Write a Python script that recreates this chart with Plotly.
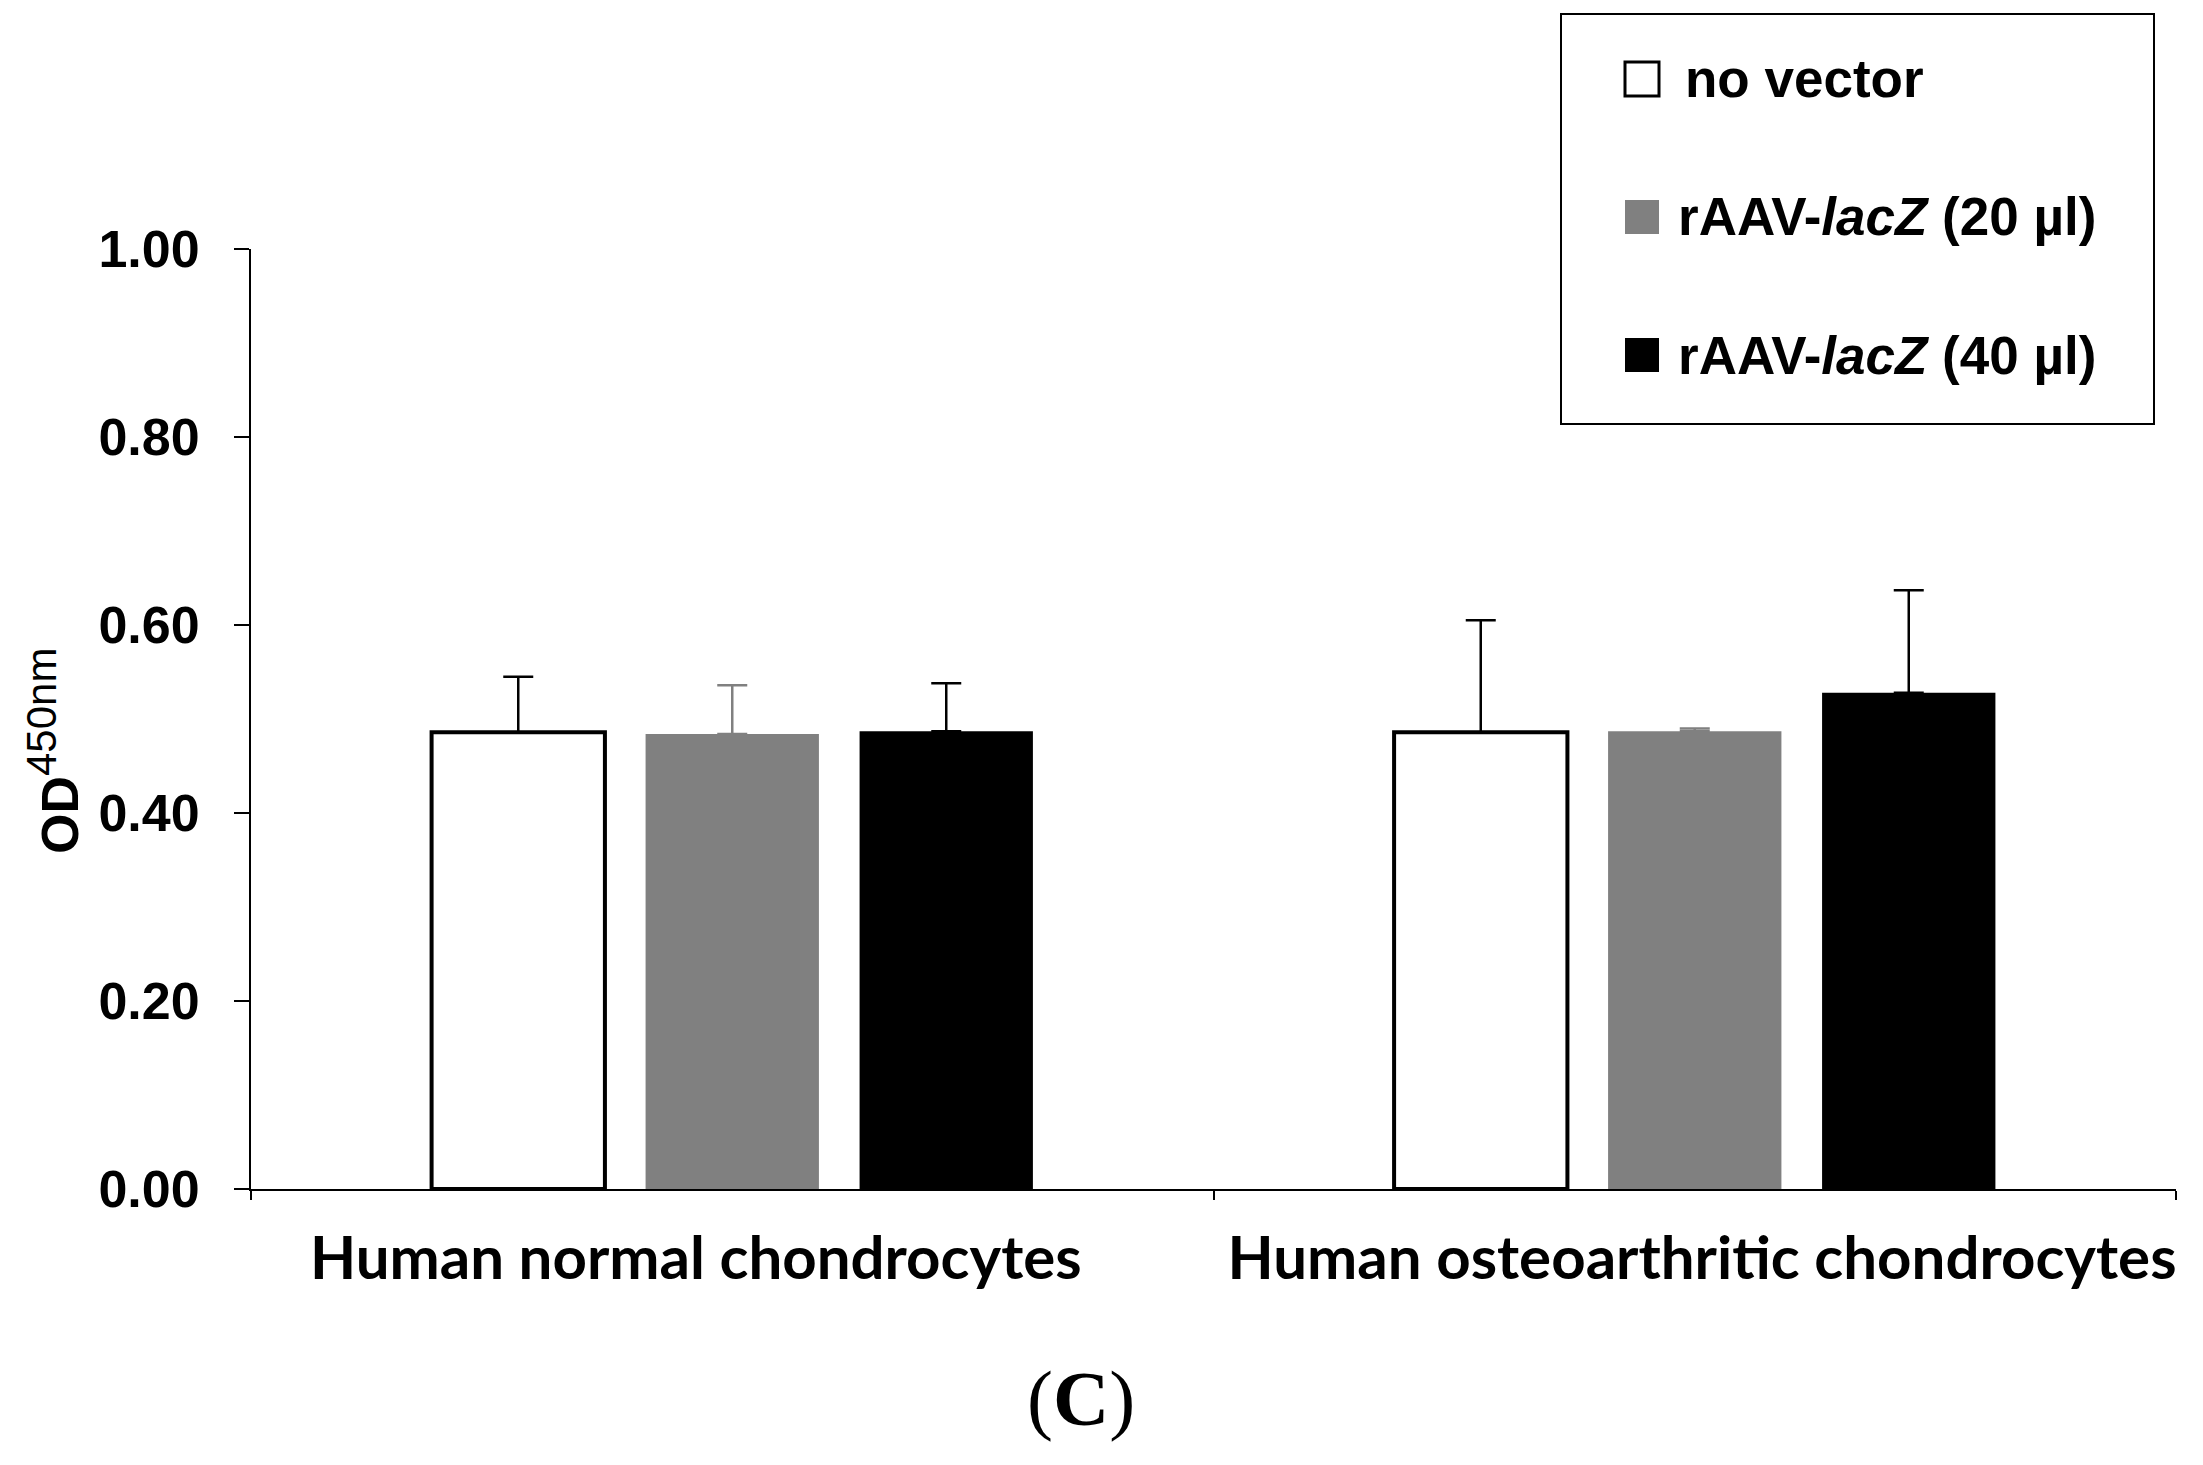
import plotly.graph_objects as go

# ---- data ----
categories = ["Human normal chondrocytes", "Human osteoarthritic chondrocytes"]
series_names = ["no vector", "rAAV-<i>lacZ</i> (20 µl)", "rAAV-<i>lacZ</i> (40 µl)"]
no_vector = [0.486, 0.486]
lacz_20 = [0.484, 0.487]
lacz_40 = [0.487, 0.528]
no_vector_err = [0.059, 0.119]
lacz_20_err = [0.052, 0.003]
lacz_40_err = [0.051, 0.109]
y_ticks = [0.0, 0.2, 0.4, 0.6, 0.8, 1.0]

values = [no_vector, lacz_20, lacz_40]
errors = [no_vector_err, lacz_20_err, lacz_40_err]
fills = ["#ffffff", "#808080", "#000000"]
outlines = ["#000000", "#808080", "#000000"]
outline_w = [4, 0, 0]
err_colors = ["#000000", "#808080", "#000000"]

W, H = 2203, 1465
L, R, T, B = 243, 35, 241, 284

fig = go.Figure()
for name, v, e, fc, lc, lw, ec in zip(series_names, values, errors, fills, outlines, outline_w, err_colors):
    fig.add_trace(go.Bar(
        x=categories, y=v, name=name, showlegend=False,
        marker=dict(color=fc, line=dict(color=lc, width=lw)),
        error_y=dict(type="data", array=e, arrayminus=[0] * len(e), symmetric=False,
                     color=ec, thickness=2.5, width=15),
    ))

# manual legend (box, swatches, labels) in paper coordinates
pw, ph = W - L - R, H - T - B
def px_x(x):
    return (x - L) / pw
def px_y(y):
    return (H - B - y) / ph

fig.add_shape(type="rect", xref="paper", yref="paper",
              x0=px_x(1553), x1=px_x(2146), y0=px_y(416), y1=px_y(6),
              line=dict(color="#000000", width=2), fillcolor="rgba(0,0,0,0)")
item_y = [71, 209, 347]
for i, (name, fc) in enumerate(zip(series_names, fills)):
    cy = item_y[i]
    fig.add_shape(type="rect", xref="paper", yref="paper",
                  x0=px_x(1617), x1=px_x(1651), y0=px_y(cy + 17), y1=px_y(cy - 17),
                  line=dict(color="#000000" if i == 0 else fc, width=3 if i == 0 else 0),
                  fillcolor=fc)
    fig.add_annotation(xref="paper", yref="paper", x=px_x(1675 if i == 0 else 1668), y=px_y(cy),
                       text=("<b>" + name + "</b>"), showarrow=False,
                       xanchor="left", yanchor="middle",
                       font=dict(family="Liberation Sans, Arial, sans-serif", size=53, color="#000000"))

# y-axis title (rotated)
fig.add_annotation(xref="paper", yref="paper", x=px_x(45), y=px_y(743),
                   text="<b>OD</b><sup><span style=\"font-size:42px\">450nm</span></sup>",
                   textangle=-90, showarrow=False, xanchor="center", yanchor="middle",
                   font=dict(family="Liberation Sans, Arial, sans-serif", size=52, color="#000000"))

# panel label
fig.add_annotation(xref="paper", yref="paper", x=px_x(1073), y=px_y(1390),
                   text="(<b>C</b>)", showarrow=False, xanchor="center", yanchor="middle",
                   font=dict(family="Liberation Serif, Times New Roman, serif", size=78, color="#000000"))

tick_text = [categories[0] + "\u00a0" * 5, "\u00a0" + categories[1]]

fig.update_layout(
    width=W, height=H,
    margin=dict(l=L, r=R, t=T, b=B, autoexpand=False),
    paper_bgcolor="#ffffff", plot_bgcolor="#ffffff",
    barmode="group", bargap=0.333, bargroupgap=0.19,
    showlegend=False,
)
fig.update_xaxes(
    tickmode="array", tickvals=categories, ticktext=tick_text, tickangle=0,
    showline=True, linecolor="#000000", linewidth=2,
    ticks="outside", tickson="boundaries", ticklen=9, tickwidth=2, tickcolor="#000000",
    tickfont=dict(family="Lato, Open Sans, sans-serif", size=60, color="#000000", weight="bold"),
    ticklabelstandoff=16, showgrid=False, zeroline=False,
)
fig.update_yaxes(
    range=[0, 1], tickvals=y_ticks, tickformat=".2f",
    showline=True, linecolor="#000000", linewidth=2,
    ticks="outside", ticklen=15, tickwidth=2, tickcolor="#000000",
    tickfont=dict(family="Liberation Sans, Arial, sans-serif", size=52, color="#000000", weight="bold"),
    ticklabelstandoff=24, showgrid=False, zeroline=False,
)

fig.write_html("out.html")
